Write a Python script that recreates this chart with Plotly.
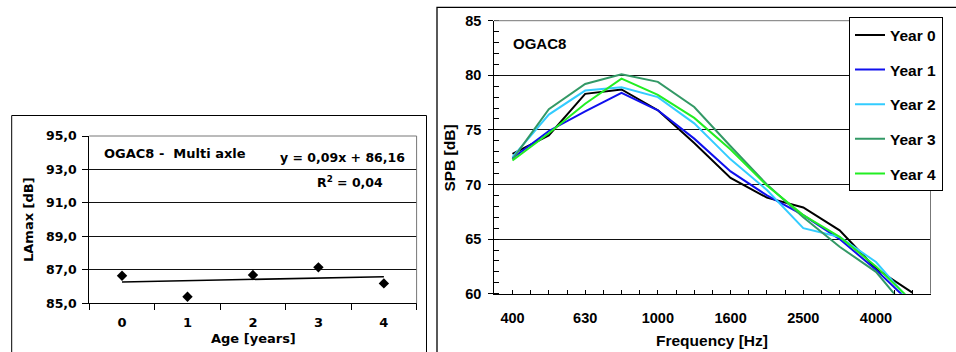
import plotly.graph_objects as go

# ---------------- data ----------------
ages = [0, 1, 2, 3, 4]
lamax = [86.65, 85.39, 86.69, 87.15, 86.19]
trend_x = [0, 4]
trend_y = [86.27, 86.59]

freq_labels = ["400", "500", "630", "800", "1000", "1250", "1600",
               "2000", "2500", "3150", "4000", "5000"]
year0 = [72.8, 74.5, 78.3, 78.7, 76.8, 73.8, 70.6, 68.8, 67.9, 65.8, 62.3, 60.1]
year1 = [72.4, 74.9, 76.7, 78.4, 76.8, 74.2, 71.2, 69.0, 67.2, 65.0, 62.2, 59.0]
year2 = [72.5, 76.4, 78.6, 78.9, 78.0, 75.6, 72.3, 69.5, 66.0, 65.2, 62.9, 59.1]
year3 = [72.3, 76.9, 79.2, 80.1, 79.4, 77.1, 73.5, 70.0, 67.0, 64.3, 62.0, 58.0]
year4 = [72.2, 74.7, 77.4, 79.7, 78.2, 76.1, 73.2, 69.9, 67.2, 65.2, 62.5, 59.3]
series_names = ["Year 0", "Year 1", "Year 2", "Year 3", "Year 4"]
series_vals = [year0, year1, year2, year3, year4]
series_colors = ["#000000", "#1010EE", "#33CCFF", "#339966", "#22EE22"]
freq_tick_labels = ["400", "630", "1000", "1600", "2500", "4000"]

W, H = 956, 352
def px(x):
    return x / W
def py(y):
    return 1 - y / H

LF = "DejaVu Sans"
RF = "Arial, Liberation Sans, sans-serif"

fig = go.Figure()

# left panel
fig.add_trace(go.Scatter(x=ages, y=lamax, mode="markers",
                         marker=dict(symbol="diamond", size=8, color="black"),
                         xaxis="x", yaxis="y", showlegend=False))
fig.add_trace(go.Scatter(x=trend_x, y=trend_y, mode="lines",
                         line=dict(color="black", width=1.6),
                         xaxis="x", yaxis="y", showlegend=False))

# right panel
idx = list(range(len(freq_labels)))
for i, (name, vals, col) in enumerate(zip(series_names, series_vals, series_colors)):
    fig.add_trace(go.Scatter(x=idx, y=vals, mode="lines", name=name,
                             line=dict(color=col, width=2),
                             xaxis="x2", yaxis="y2", legendgroup=name))

tickpos = [freq_labels.index(t) for t in freq_tick_labels]

fig.update_layout(
    width=W, height=H,
    margin=dict(l=0, r=0, t=0, b=0, autoexpand=False),
    paper_bgcolor="white", plot_bgcolor="white",
    separators=", ",
    xaxis=dict(domain=[px(89.3), px(416.6)], range=[-0.5, 4.5],
               tickvals=ages, ticktext=[str(a) for a in ages], ticks="",
               minor=dict(ticks="outside", tick0=-0.5, dtick=1, ticklen=6,
                          tickcolor="black", showgrid=False),
               showline=True, linecolor="black", linewidth=1,
               showgrid=False, zeroline=False, fixedrange=True,
               tickfont=dict(family=LF, size=13, color="black", weight="bold"),
               ticklabelstandoff=7),
    yaxis=dict(domain=[py(303.3), py(136)], range=[85, 95], dtick=2, tick0=85,
               tickformat=".1f", ticks="outside", ticklen=6, tickcolor="black",
               showline=True, linecolor="black", linewidth=1,
               showgrid=True, gridcolor="#111111", gridwidth=1, zeroline=False,
               tickfont=dict(family=LF, size=12.5, color="black", weight="bold"),
               ticklabelstandoff=3, anchor="x"),
    xaxis2=dict(domain=[px(494.3), px(930.5)], range=[-0.5, 11.5],
                tickvals=tickpos, ticktext=freq_tick_labels,
                ticks="inside", ticklen=4, tickcolor="black",
                minor=dict(ticks="inside", tick0=-0.5, dtick=0.5, ticklen=4,
                           tickcolor="black", showgrid=False),
                showline=True, linecolor="black", linewidth=1,
                showgrid=False, zeroline=False, anchor="y2",
                tickfont=dict(family=RF, size=14.5, color="black", weight="bold"),
                ticklabelstandoff=11),
    yaxis2=dict(domain=[py(293.7), py(20.7)], range=[60, 85], dtick=5, tick0=60,
                ticks="outside", ticklen=5, tickcolor="black",
                minor=dict(ticks="inside", dtick=1, tick0=60, ticklen=5,
                           tickcolor="black", showgrid=False),
                showline=True, linecolor="black", linewidth=1,
                showgrid=True, gridcolor="#111111", gridwidth=1, zeroline=False,
                tickfont=dict(family=RF, size=14.5, color="black", weight="bold"),
                ticklabelstandoff=4, anchor="x2"),
    legend=dict(x=px(849), y=py(17.3), xanchor="left", yanchor="top",
                bgcolor="white", bordercolor="black", borderwidth=1,
                font=dict(family=RF, size=15.5, color="black", weight="bold"),
                tracegroupgap=11.5, traceorder="grouped"),
    showlegend=True,
)

shapes = []
# panel frames
shapes.append(dict(type="rect", xref="paper", yref="paper",
                   x0=px(11.7), x1=px(426.5), y0=-0.2, y1=py(115.5),
                   line=dict(color="black", width=1), layer="below"))
shapes.append(dict(type="rect", xref="paper", yref="paper",
                   x0=px(437), x1=1.2, y0=-0.2, y1=py(7.3),
                   line=dict(color="black", width=1.3), layer="below"))
# plot-area top/right borders (gray)
for xa, ya in (("x", "y"), ("x2", "y2")):
    shapes.append(dict(type="line", xref=xa + " domain", yref=ya + " domain",
                       x0=0, x1=1, y0=1, y1=1, line=dict(color="#777777", width=1)))
    shapes.append(dict(type="line", xref=xa + " domain", yref=ya + " domain",
                       x0=1, x1=1, y0=0, y1=1, line=dict(color="#777777", width=1)))
fig.update_layout(shapes=shapes)

ann = []
def a(text, x, y, xanchor="center", family=RF, size=15, angle=0):
    ann.append(dict(text=text, x=px(x), y=py(y), xref="paper", yref="paper",
                    xanchor=xanchor, yanchor="middle", showarrow=False,
                    textangle=angle,
                    font=dict(family=family, size=size, color="black", weight="bold")))

a("OGAC8 -\u00a0 Multi axle", 101.7, 153.7, "left", LF, 13)
a("y = 0,09x + 86,16", 406.7, 157.7, "right", LF, 12.5)
a("R<sup>2</sup> = 0,04", 315, 181.7, "left", LF, 12.5)
a("Age [years]", 253, 338, "center", LF, 13)
a("LAmax [dB]", 28, 220, "center", LF, 13, -90)
a("OGAC8", 511, 43.3, "left", RF, 15)
a("Frequency [Hz]", 711.7, 340.7, "center", RF, 15.5)
a("SPB [dB]", 449.3, 158.3, "center", RF, 15.5, -90)
fig.update_layout(annotations=ann)

fig.write_html(
    "out.html",
    config={"displayModeBar": False, "staticPlot": True},
    post_script="document.body.style.margin='0';document.body.style.padding='0';"
                "document.body.style.overflow='hidden';",
)
